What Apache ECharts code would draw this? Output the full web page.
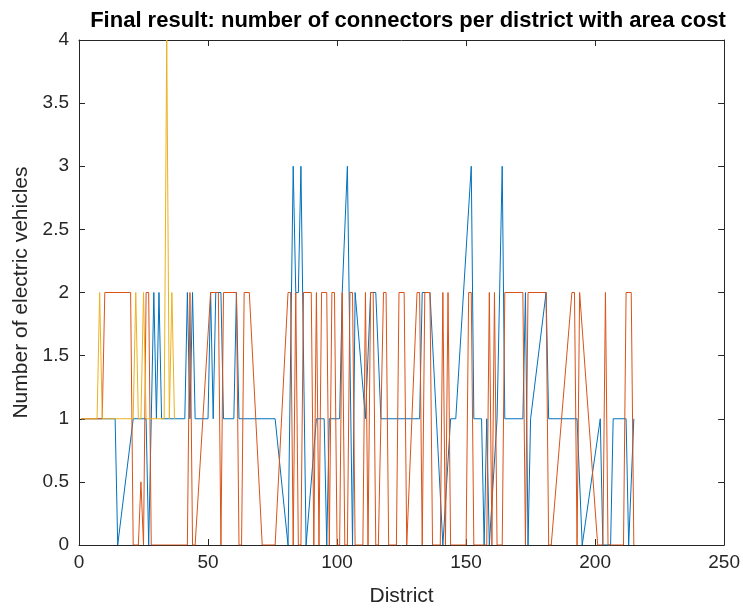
<!DOCTYPE html>
<html>
<head>
<meta charset="utf-8">
<script src="https://cdn.jsdelivr.net/npm/echarts@6/dist/echarts.min.js"></script>
<style>
    html, body { margin: 0; padding: 0; background: #fff; }
    #chart { width: 743px; height: 612px; }
</style>
</head>
<body>
<div id="chart"></div>
<script>
// series 1 (blue) - district / value breakpoints
const blueX = [1, 14, 15, 21, 26, 27, 29, 30, 31, 32, 41, 42, 43, 44, 45, 50, 51, 52, 53, 55, 56, 60, 61, 62,
    76, 81, 83, 84, 85, 86, 88, 92, 95, 96, 97, 101, 102, 104, 106, 107, 111, 113, 115, 117, 132, 133, 136,
    141, 144, 146, 152, 153, 156, 157, 158, 159, 162, 164, 165, 172, 173, 174, 175, 181, 182, 193, 195, 202,
    203, 206, 207, 212, 213, 215];
const blueY = [1, 1, 0, 1, 1, 0, 2, 1, 2, 1, 1, 2, 1, 2, 1, 1, 2, 1, 2, 2, 1, 1, 2, 1,
    1, 0, 3, 2, 2, 3, 0, 1, 1, 0, 1, 1, 2, 3, 0, 2, 1, 2, 2, 1, 1, 2, 2,
    0, 1, 1, 3, 1, 1, 0, 1, 0, 1, 3, 1, 1, 2, 0, 1, 2, 1, 1, 0, 1,
    0, 0, 1, 1, 0, 1];

// series 2 (orange)
const orangeX = [1, 9, 10, 20, 21, 23, 24, 25, 26, 27, 28, 42, 43, 44, 45, 51, 53, 54, 55, 56, 61, 62, 63, 64,
    66, 71, 76, 81, 82, 83, 84, 85, 86, 87, 90, 91, 92, 93, 94, 96, 97, 98, 99, 100, 101, 102, 103, 104, 105,
    106, 107, 110, 111, 112, 113, 114, 115, 116, 118, 119, 120, 123, 124, 126, 127, 131, 132, 133, 134, 136,
    137, 140, 141, 142, 143, 144, 150, 151, 152, 153, 158, 159, 160, 161, 162, 164, 165, 172, 173, 174, 181,
    182, 183, 191, 192, 193, 194, 201, 203, 204, 205, 211, 212, 214, 215];
const orangeY = [1, 1, 2, 2, 0, 0, 0.5, 0, 2, 2, 0, 0, 2, 0, 0, 2, 2, 2, 0, 2, 2, 0, 0, 2,
    2, 0, 0, 2, 2, 0, 2, 0, 0, 2, 2, 0, 2, 0, 2, 2, 0, 2, 2, 0, 0, 2, 0, 0, 2,
    2, 0, 0, 2, 0, 2, 2, 0, 0, 2, 2, 0, 0, 2, 2, 0, 2, 2, 0, 2, 2,
    0, 0, 2, 0, 2, 0, 0, 2, 2, 0, 0, 2, 0, 2, 0, 0, 2, 2, 0, 2, 2,
    0, 0, 2, 2, 0, 2, 0, 0, 2, 0, 0, 2, 2, 0];

// series 3 (yellow)
const yellowX = [1, 7, 8, 9, 21, 22, 23, 24, 25, 26, 33, 34, 35, 36, 37];
const yellowY = [1, 1, 2, 1, 1, 2, 1, 1, 2, 1, 1, 4, 1, 2, 1];

const xTicks = [0, 50, 100, 150, 200, 250];
const yTicks = [0, 0.5, 1, 1.5, 2, 2.5, 3, 3.5, 4];

const zip = (xs, ys) => xs.map((x, i) => [x, ys[i]]);

const axisColor = "#262626";
const font = "Liberation Sans";

const baseX = {
    type: "value",
    min: xTicks[0],
    max: xTicks[xTicks.length - 1],
    interval: 50,
    axisLine: { show: true, onZero: false, lineStyle: { color: axisColor, width: 1 } },
    axisTick: { show: true, inside: true, length: 6, lineStyle: { color: axisColor } },
    splitLine: { show: false }
};
const baseY = {
    type: "value",
    min: yTicks[0],
    max: yTicks[yTicks.length - 1],
    interval: 0.5,
    axisLine: { show: true, onZero: false, lineStyle: { color: axisColor, width: 1 } },
    axisTick: { show: true, inside: true, length: 6, lineStyle: { color: axisColor } },
    splitLine: { show: false }
};

const chart = echarts.init(document.getElementById("chart"));

chart.setOption({
    animation: false,
    backgroundColor: "#fff",
    textStyle: { fontFamily: font },
    title: {
        text: "Final result: number of connectors per district with area cost",
        left: 403,
        textAlign: "center",
        top: 5,
        textStyle: { fontFamily: font, fontWeight: "bold", fontSize: 22, color: "#000" }
    },
    grid: { left: 79, right: 18, top: 40, bottom: 64 },
    xAxis: [
        Object.assign({}, baseX, {
            position: "bottom",
            name: "District",
            nameLocation: "middle",
            nameGap: 41,
            nameTextStyle: { fontFamily: font, fontSize: 21, color: axisColor },
            axisLabel: { fontFamily: font, fontSize: 19, color: axisColor, margin: 8 }
        }),
        Object.assign({}, baseX, { position: "top", axisLabel: { show: false } })
    ],
    yAxis: [
        Object.assign({}, baseY, {
            position: "left",
            name: "Number of electric vehicles",
            nameLocation: "middle",
            nameGap: 46,
            nameTextStyle: { fontFamily: font, fontSize: 21, color: axisColor },
            axisLabel: { fontFamily: font, fontSize: 19, color: axisColor, margin: 10 }
        }),
        Object.assign({}, baseY, { position: "right", axisLabel: { show: false } })
    ],
    series: [
        { name: "s1", data: zip(blueX, blueY), color: "#0072BD" },
        { name: "s2", data: zip(orangeX, orangeY), color: "#D95319" },
        { name: "s3", data: zip(yellowX, yellowY), color: "#EDB120" }
    ].map(s => ({
        name: s.name,
        type: "line",
        data: s.data,
        showSymbol: false,
        symbol: "none",
        lineStyle: { color: s.color, width: 1 },
        itemStyle: { color: s.color }
    }))
});
</script>
</body>
</html>
